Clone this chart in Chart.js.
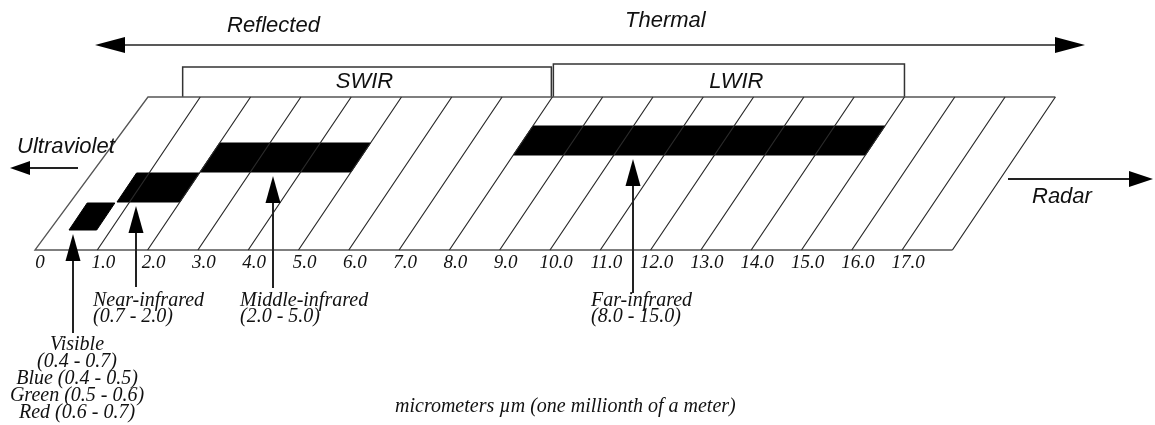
<!DOCTYPE html>
<html><head><meta charset="utf-8">
<script src="https://cdn.jsdelivr.net/npm/chart.js@4/dist/chart.umd.min.js"></script>
<style>html,body{margin:0;padding:0;background:#fff}#wrap{width:1155px;height:425px;position:relative}</style>
</head><body><div id="wrap"><canvas id="c"></canvas></div>
<script>
// ---------- data ----------
const tickValues = [0,1,2,3,4,5,6,7,8,9,10,11,12,13,14,15,16,17];
const tickLabels = ['0','1.0','2.0','3.0','4.0','5.0','6.0','7.0','8.0','9.0','10.0','11.0','12.0','13.0','14.0','15.0','16.0','17.0'];
const gridEnd = 18;
const bandNames = ['Visible','Near-infrared','Middle-infrared','Far-infrared'];
const bandStart = [0.17, 0.75, 2.0, 8.0];
const bandEnd   = [0.72, 2.0, 5.0, 15.0];
const bandLabelLines = [
  ['Visible','(0.4 - 0.7)','Blue (0.4 - 0.5)','Green (0.5 - 0.6)','Red (0.6 - 0.7)'],
  ['Near-infrared','(0.7 - 2.0)'],
  ['Middle-infrared','(2.0 - 5.0)'],
  ['Far-infrared','(8.0 - 15.0)']
];
const rangeNames = ['SWIR','LWIR'];
const rangeStart = [0.65, 8.0];
const rangeEnd   = [8.0, 15.0];
const regionLabels = ['Reflected','Thermal','Ultraviolet','Radar'];
const axisTitle = 'micrometers \u00b5m (one millionth of a meter)';

// ---------- layout (pixels / styles) ----------
const W = 1155, HPX = 425;
const X0 = 47, K = 50.3;          // pixel of value 0, pixels per micrometer
const YB = 250;                    // pixel row of the grid bottom
const GH = 153;                    // grid height in y units (pixels)
const SLOPE = 0.673;               // horizontal px per vertical px of the skew
const sk = y => y * SLOPE / K;     // skew in value units
const bandLevels = [[20,47],[48,77],[78,107],[95,124]];
const rangeTops = [183,186];
const frameLeftBottom = -0.24, frameLeftTop = -0.04;

// ---------- datasets ----------
const datasets = [];
const gridPts = [];
tickValues.filter(v => v > 0).concat([gridEnd]).forEach(v => {
  gridPts.push({x: v, y: 0}, {x: v + sk(GH), y: GH}, {x: v, y: null});
});
datasets.push({data: gridPts, borderColor: '#2a2a2a', borderWidth: 1.2, showLine: true, spanGaps: false, pointRadius: 0, fill: false});
datasets.push({data: [
  {x: gridEnd, y: 0}, {x: frameLeftBottom, y: 0}, {x: frameLeftTop + sk(GH), y: GH}, {x: gridEnd + sk(GH), y: GH}
], borderColor: '#555', borderWidth: 1.3, showLine: true, pointRadius: 0, fill: false});
bandNames.forEach((n, i) => {
  const [lo, hi] = bandLevels[i];
  const s = bandStart[i], e = bandEnd[i];
  datasets.push({label: n, data: [
    {x: s + sk(lo), y: lo}, {x: e + sk(lo), y: lo}, {x: e + sk(hi), y: hi}, {x: s + sk(hi), y: hi}, {x: s + sk(lo), y: lo}
  ], borderColor: '#000', backgroundColor: '#000', borderWidth: 1, showLine: true, pointRadius: 0, fill: 'shape'});
});
rangeNames.forEach((n, i) => {
  const top = rangeTops[i];
  const l = rangeStart[i] + sk(GH) + (i > 0 ? 1 / K : 0);
  const r = rangeEnd[i] + sk(GH) - (i < rangeNames.length - 1 ? 1 / K : 0);
  datasets.push({label: n, data: [{x: l, y: GH}, {x: l, y: top}, {x: r, y: top}, {x: r, y: GH}],
    borderColor: '#333', borderWidth: 1.5, showLine: true, pointRadius: 0, fill: false});
});

// ---------- annotation plugin ----------
const SERIF_T = 'italic 19px "Liberation Serif", "Times New Roman", serif';
const SERIF = 'italic 20px "Liberation Serif", "Times New Roman", serif';
const SANS = 'italic 22px "Liberation Sans", Arial, sans-serif';
function arrow(ctx, x1, y1, x2, y2, len, hw, lw) {
  const dx = x2 - x1, dy = y2 - y1, d = Math.hypot(dx, dy), ux = dx / d, uy = dy / d;
  const bx = x2 - ux * len, by = y2 - uy * len;
  ctx.lineWidth = lw; ctx.beginPath(); ctx.moveTo(x1, y1); ctx.lineTo(bx, by); ctx.stroke();
  ctx.beginPath(); ctx.moveTo(x2, y2); ctx.lineTo(bx - uy * hw, by + ux * hw); ctx.lineTo(bx + uy * hw, by - ux * hw); ctx.closePath(); ctx.fill();
}
const annot = {
  id: 'annot',
  afterDatasetsDraw(chart) {
    const ctx = chart.ctx, xs = chart.scales.x, ys = chart.scales.y;
    const px = v => xs.getPixelForValue(v), py = v => ys.getPixelForValue(v);
    ctx.save();
    ctx.fillStyle = '#111'; ctx.strokeStyle = '#111';
    ctx.font = SERIF_T; ctx.textAlign = 'center'; ctx.textBaseline = 'alphabetic';
    tickValues.forEach((v, i) => {
      const x = (v === 0 ? px(frameLeftBottom) + 5 : px(v) + 6);
      ctx.fillText(tickLabels[i], x, py(0) + 18);
    });
    const arrowX = [73, 136, 273, 633];
    const arrowTail = [333, 287, 288, 293];
    bandNames.forEach((n, i) => {
      const tip = py(bandLevels[i][0]) + 4;
      ctx.fillStyle = '#000'; ctx.strokeStyle = '#222';
      arrow(ctx, arrowX[i], arrowTail[i], arrowX[i], tip, 27, 7.5, 2);
    });
    ctx.fillStyle = '#111';
    ctx.font = SERIF;
    ctx.textAlign = 'center';
    bandLabelLines[0].forEach((t, j) => ctx.fillText(t, 77, 350 + j * 17));
    ctx.textAlign = 'left';
    const lblX = [0, 93, 240, 591];
    for (let i = 1; i < bandLabelLines.length; i++) {
      bandLabelLines[i].forEach((t, j) => ctx.fillText(t, lblX[i], 306 + j * 16));
    }
    ctx.fillText(axisTitle, 395, 412);
    ctx.font = SANS; ctx.textAlign = 'center';
    const rangeOff = [-3, 8];
    rangeNames.forEach((n, i) => {
      const c = (px(rangeStart[i] + sk(GH)) + px(rangeEnd[i] + sk(GH))) / 2 + rangeOff[i];
      ctx.fillText(n, c, 88);
    });
    ctx.textAlign = 'left';
    ctx.fillText(regionLabels[0], 227, 32);
    ctx.fillText(regionLabels[1], 625, 27);
    ctx.fillText(regionLabels[2], 17, 153);
    ctx.fillText(regionLabels[3], 1032, 203);
    ctx.fillStyle = '#000'; ctx.strokeStyle = '#222';
    arrow(ctx, 590, 45, 95, 45, 30, 8, 1.5);
    arrow(ctx, 590, 45, 1085, 45, 30, 8, 1.5);
    arrow(ctx, 78, 168, 10, 168, 20, 7, 2);
    arrow(ctx, 1008, 179, 1153, 179, 24, 8, 2.2);
    ctx.restore();
  }
};

new Chart(document.getElementById('c'), {
  type: 'scatter',
  data: {datasets},
  options: {
    responsive: true, maintainAspectRatio: false, animation: false,
    layout: {padding: 0},
    elements: {line: {tension: 0}, point: {radius: 0, hoverRadius: 0}},
    plugins: {legend: {display: false}, tooltip: {enabled: false}, title: {display: false}},
    events: [],
    scales: {
      x: {type: 'linear', display: false, min: -X0 / K, max: (W - X0) / K},
      y: {type: 'linear', display: false, min: YB - HPX, max: YB}
    }
  },
  plugins: [annot]
});
</script></body></html>
